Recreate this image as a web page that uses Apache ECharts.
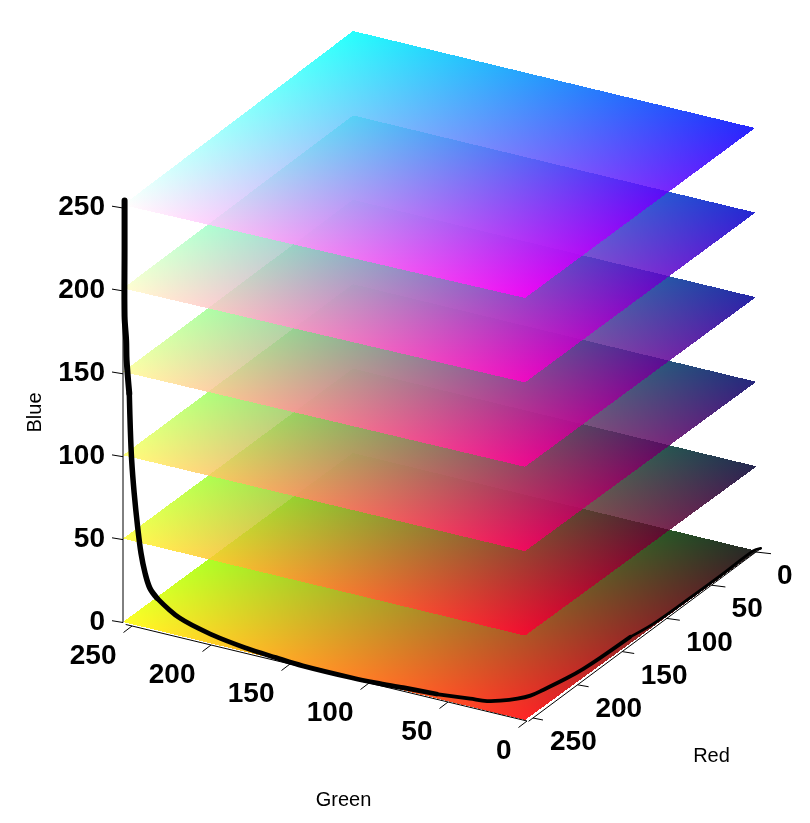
<!DOCTYPE html>
<html>
<head>
<meta charset="utf-8">
<style>html,body{margin:0;padding:0;background:#fff}#chart{width:810px;height:823px}</style>
<script src="https://cdn.jsdelivr.net/npm/echarts@6/dist/echarts.min.js"></script>
</head>
<body>
<div id="chart"></div>
<script>
// ---- data (RGB space) ----
const planeLevels = [0, 50.4, 100.8, 151.2, 201.6, 252];
const redTicks = [0, 50, 100, 150, 200, 250];
const greenTicks = [0, 50, 100, 150, 200, 250];
const blueTicks = [0, 50, 100, 150, 200, 250];
const curveRed = [255,255,255,255,255,255,255,255,255,255,255,255,255,255,255,255,255,255,255,255,254,252,250,246,244,240,233,226,216,196,181,164,132,111,75,38,1,-4];
const curveGreen = [254,254,254,253,252.7,251,250.4,249.5,247.9,245.7,243.6,241,238,233.5,219,198,177,158,141,110,95,79,59,40,30.4,24.3,17.5,13.3,11,7.4,5.7,4.8,4.2,1.8,1.3,1.3,1.9,0];
const curveBlue = [255,225,185,170.7,158.8,139,118.8,99,79.5,59.5,44.3,32.8,24.5,19.5,10.7,5.3,2.4,1,0,0,0,0,0,0,0,0,0,0,0,0,0,0,0,0,0,0,0,0];

// ---- view: the projection of the RGB cube on the page ----
const floorCorners = {c00:[757,551], c10:[525,720], c01:[353,453], c11:[123,622]};
const roofCorners  = {c00:[755,128], c10:[525,298], c01:[353,31],  c11:[123,205]};
const ROOF_LEVEL = 252, PLANE_ALPHA = 0.85;
const FONT = "'Liberation Sans', Arial, Helvetica, sans-serif";

function bilinear(c, u, v, i) {
  return (1-u)*(1-v)*c.c00[i] + u*(1-v)*c.c10[i] + (1-u)*v*c.c01[i] + u*v*c.c11[i];
}
function project(r, g, b) {
  const u = r/255, v = g/255, t = b/ROOF_LEVEL;
  return [0,1].map(i => bilinear(floorCorners,u,v,i)*(1-t) + bilinear(roofCorners,u,v,i)*t);
}
const lerp = (a,b,t) => a + (b-a)*t;
const lerp2 = (a,b,t) => [lerp(a[0],b[0],t), lerp(a[1],b[1],t)];

// axis frames, value -> position on page
const redAxis   = v => lerp2([756,552],[533,718],v/250);
const greenAxis = v => lerp2([527,721],[132,626],v/250);
const blueAxis  = v => lerp2([123,622.5],[123,208],v/250);

function renderPlane(params, api) {
  const level = api.value(0);
  const rg = [[0,0],[255,0],[255,255],[0,255]];
  const pts = rg.map(p => { const q = api.coord(project(p[0],p[1],level)); return {x:q[0],y:q[1],r:p[0],g:p[1]}; });
  const ys = pts.map(p => p.y);
  const y0 = Math.ceil(Math.min(...ys)-0.5), y1 = Math.floor(Math.max(...ys)-0.5);
  const children = [];
  const col = (r,g) => `rgba(${Math.round(r)},${Math.round(g)},${Math.round(Math.min(level,255))},${PLANE_ALPHA})`;
  for (let y = y0; y <= y1; y++) {
    const yc = y + 0.5, hits = [];
    for (let k = 0; k < 4; k++) {
      const a = pts[k], b = pts[(k+1)%4];
      if ((a.y <= yc && b.y > yc) || (b.y <= yc && a.y > yc)) {
        const t = (yc-a.y)/(b.y-a.y);
        hits.push({x:lerp(a.x,b.x,t), r:lerp(a.r,b.r,t), g:lerp(a.g,b.g,t)});
      }
    }
    if (hits.length < 2) continue;
    hits.sort((p,q) => p.x-q.x);
    const L = hits[0], R = hits[1];
    const xl = Math.round(L.x), xr = Math.round(R.x);
    if (xr <= xl) continue;
    children.push({
      type:'rect', silent:true,
      shape:{x:xl, y:y, width:xr-xl, height:1},
      style:{fill:{type:'linear', x:L.x, y:0, x2:R.x, y2:0, global:true,
        colorStops:[{offset:0,color:col(L.r,L.g)},{offset:1,color:col(R.r,R.g)}]}}
    });
  }
  return {type:'group', children};
}

const lineEl = (api,a,b,w) => {
  const p = api.coord(a), q = api.coord(b);
  return {type:'line', silent:true, shape:{x1:p[0],y1:p[1],x2:q[0],y2:q[1]}, style:{stroke:'#000',lineWidth:w||1}};
};
const textEl = (api,pos,text,align,size,weight,rot) => {
  const p = api.coord(pos);
  return {type:'text', silent:true, x:p[0], y:p[1], rotation:rot||0,
    style:{x:0,y:0,text:String(text),fill:'#000',align:align,verticalAlign:'middle',
      fontFamily:FONT,fontSize:size,fontWeight:weight}};
};
const TICK_SIZE = 28, NAME_SIZE = 20;

function renderRedTick(params, api) {
  const v = api.value(0), s = redAxis(v), t = v/250;
  const d = lerp2([15,1.7],[10,2],t), off = lerp(21,17,t);
  return {type:'group',children:[
    lineEl(api,s,[s[0]+d[0],s[1]+d[1]]),
    textEl(api,[s[0]+off,s[1]+24.5],v,'left',TICK_SIZE,'bold')]};
}
function renderGreenTick(params, api) {
  const v = api.value(0), s = greenAxis(v);
  return {type:'group',children:[
    lineEl(api,s,[s[0]-8.5,s[1]+6.5]),
    textEl(api,[s[0]-15.5,s[1]+30.5],v,'right',TICK_SIZE,'bold')]};
}
function renderBlueTick(params, api) {
  const v = api.value(0), s = blueAxis(v);
  return {type:'group',children:[
    lineEl(api,s,[s[0]-11,s[1]-1.8]),
    textEl(api,[105,s[1]-0.5],v,'right',TICK_SIZE,'bold')]};
}
function renderFrame(params, api) {
  return {type:'group',children:[
    lineEl(api,redAxis(-6),redAxis(255)),
    lineEl(api,greenAxis(0),greenAxis(254)),
    lineEl(api,blueAxis(0),blueAxis(255)),
    textEl(api,[35,412.5],'Blue','center',NAME_SIZE,'normal',Math.PI/2),
    textEl(api,[711.5,756],'Red','center',NAME_SIZE,'normal'),
    textEl(api,[343.5,800],'Green','center',NAME_SIZE,'normal')
  ]};
}
// the drawn tube narrows with depth: one width per stretch of the curve
const curveBands = [[0,6,6],[5,14,5.5],[13,23,4.8],[22,33,3.8],[32,38,2.8]];
function renderCurve(params, api) {
  const pts = curveRed.map((r,i) => api.coord(project(r,curveGreen[i],curveBlue[i])));
  return {type:'group',children:curveBands.map(b => ({
    type:'polyline', silent:true,
    shape:{points:pts.slice(b[0],b[1]), smooth:0.35},
    style:{stroke:'#000',fill:null,lineCap:'round',lineJoin:'round',lineWidth:b[2]}
  }))};
}

const chart = echarts.init(document.getElementById('chart'), null, {renderer:'canvas'});
const base = {type:'custom', coordinateSystem:'cartesian2d', animation:false, silent:true, clip:false,
  progressive:0, encode:{x:0,y:0}};
chart.setOption({
  animation:false,
  backgroundColor:'#fff',
  tooltip:{show:false},
  grid:{left:0,right:0,top:0,bottom:0},
  xAxis:{type:'value',min:0,max:810,show:false},
  yAxis:{type:'value',min:0,max:823,inverse:true,show:false},
  series:[
    Object.assign({},base,{name:'Planes',z:1,renderItem:renderPlane,data:planeLevels.map(v=>[v])}),
    Object.assign({},base,{name:'Red axis',z:2,renderItem:renderRedTick,data:redTicks.map(v=>[v])}),
    Object.assign({},base,{name:'Green axis',z:2,renderItem:renderGreenTick,data:greenTicks.map(v=>[v])}),
    Object.assign({},base,{name:'Blue axis',z:2,renderItem:renderBlueTick,data:blueTicks.map(v=>[v])}),
    Object.assign({},base,{name:'Frame',z:2,renderItem:renderFrame,data:[[0]]}),
    Object.assign({},base,{name:'Curve',z:3,renderItem:renderCurve,data:[[0]]})
  ]
});
</script>
</body>
</html>
